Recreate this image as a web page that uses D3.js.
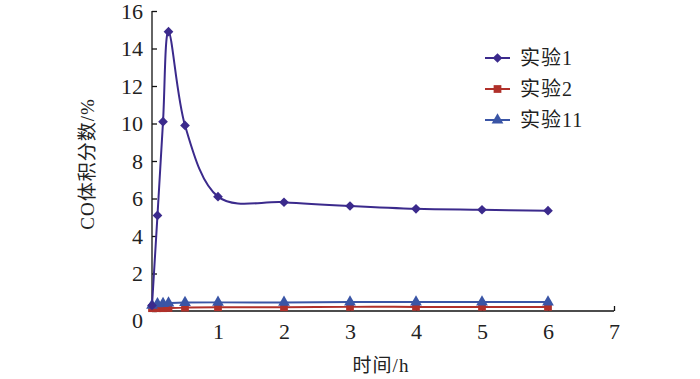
<!DOCTYPE html>
<html>
<head>
<meta charset="utf-8">
<script src="https://cdn.jsdelivr.net/npm/d3@7"></script>
<style>
  body { margin: 0; background: #fff; }
  svg text { font-family: "Liberation Serif", "Times New Roman", "DejaVu Serif", "Noto Sans CJK SC", serif !important; fill: #222; }
</style>
</head>
<body>
<script>
// times in hours
var times = [0, 0.083, 0.167, 0.25, 0.5, 1, 2, 3, 4, 5, 6];
var exp1  = [0.3, 5.1, 10.1, 14.9, 9.9, 6.1, 5.8, 5.6, 5.45, 5.4, 5.35];
var exp2  = [0.15, 0.15, 0.15, 0.16, 0.18, 0.2, 0.2, 0.22, 0.22, 0.22, 0.22];
var exp11 = [0.3, 0.38, 0.4, 0.42, 0.45, 0.46, 0.46, 0.48, 0.48, 0.48, 0.48];
var seriesNames = ["实验1", "实验2", "实验11"];
var xTicks = [1, 2, 3, 4, 5, 6, 7];
var yTicks = [0, 2, 4, 6, 8, 10, 12, 14, 16];

var colors = ["#3b2a8c", "#b0302a", "#3a55a6"];
var shapes = [d3.symbolDiamond2, d3.symbolSquare, d3.symbolTriangle];

var W = 700, H = 379;
var x = d3.scaleLinear().domain([0, 7]).range([152, 614]);
var y = d3.scaleLinear().domain([0, 16]).range([311, 11]);

var svg = d3.select("body").append("svg")
    .attr("width", W)
    .attr("height", H);

// axes, ticks pointing inward
svg.append("g")
    .attr("transform", "translate(" + x(0) + ",0)")
    .call(d3.axisLeft(y).tickValues(yTicks).tickSize(-5).tickPadding(9).tickFormat(d3.format("d")))
    .call(function(g) {
      g.attr("font-family", null);
      g.select(".domain").attr("stroke", "#111").attr("stroke-width", 1.3).attr("d", "M0," + y(16) + "V" + y(0));
      g.selectAll(".tick line").attr("stroke", "#111").attr("stroke-width", 1.3);
      g.selectAll("text").style("font-size", "22px").attr("fill", "#222");
      g.selectAll(".tick").filter(function(d) { return d === 0; }).select("text").attr("dy", "0.75em");
    });

svg.append("g")
    .attr("transform", "translate(0," + y(0) + ")")
    .call(d3.axisBottom(x).tickValues(xTicks).tickSize(-5).tickPadding(12).tickFormat(d3.format("d")))
    .call(function(g) {
      g.attr("font-family", null);
      g.select(".domain").attr("stroke", "#111").attr("stroke-width", 1.3).attr("d", "M" + x(0) + ",0H" + x(7));
      g.selectAll(".tick line").attr("stroke", "#111").attr("stroke-width", 1.3);
      g.selectAll("text").style("font-size", "22px").attr("fill", "#222");
    });

// axis titles
svg.append("text")
    .attr("transform", "translate(94,164) rotate(-90)")
    .attr("text-anchor", "middle")
    .style("font-size", "19px")
    .style("letter-spacing", "1px")
    .text("CO体积分数/%");

svg.append("text")
    .attr("x", 381)
    .attr("y", 372)
    .attr("text-anchor", "middle")
    .style("font-size", "19px")
    .style("letter-spacing", "1px")
    .text("时间/h");

// series
var allSeries = [exp1, exp2, exp11];
var line = d3.line()
    .x(function(d) { return x(d[0]); })
    .y(function(d) { return y(d[1]); })
    .curve(d3.curveCardinal.tension(0));

// draw bottom series first so series 1 sits on top
[1, 2, 0].forEach(function(i) {
  var pts = times.map(function(t, j) { return [t, allSeries[i][j]]; });
  svg.append("path")
      .datum(pts)
      .attr("fill", "none")
      .attr("stroke", colors[i])
      .attr("stroke-width", 2)
      .attr("d", line);
  svg.selectAll(".m" + i)
      .data(pts)
    .enter().append("path")
      .attr("class", "m" + i)
      .attr("transform", function(d) { return "translate(" + x(d[0]) + "," + y(d[1]) + ")"; })
      .attr("d", d3.symbol().type(shapes[i]).size(60))
      .attr("fill", colors[i]);
});

// legend
var legend = svg.append("g").attr("transform", "translate(485,58)");
seriesNames.forEach(function(name, i) {
  var row = legend.append("g").attr("transform", "translate(0," + (i * 31) + ")");
  row.append("line")
      .attr("x1", 0).attr("x2", 25)
      .attr("stroke", colors[i]).attr("stroke-width", 2);
  row.append("path")
      .attr("transform", "translate(12.5,0)")
      .attr("d", d3.symbol().type(shapes[i]).size(60))
      .attr("fill", colors[i]);
  row.append("text")
      .attr("x", 35)
      .attr("dy", "0.35em")
      .style("font-size", "20px")
      .style("letter-spacing", "1px")
      .text(name);
});
</script>
</body>
</html>
